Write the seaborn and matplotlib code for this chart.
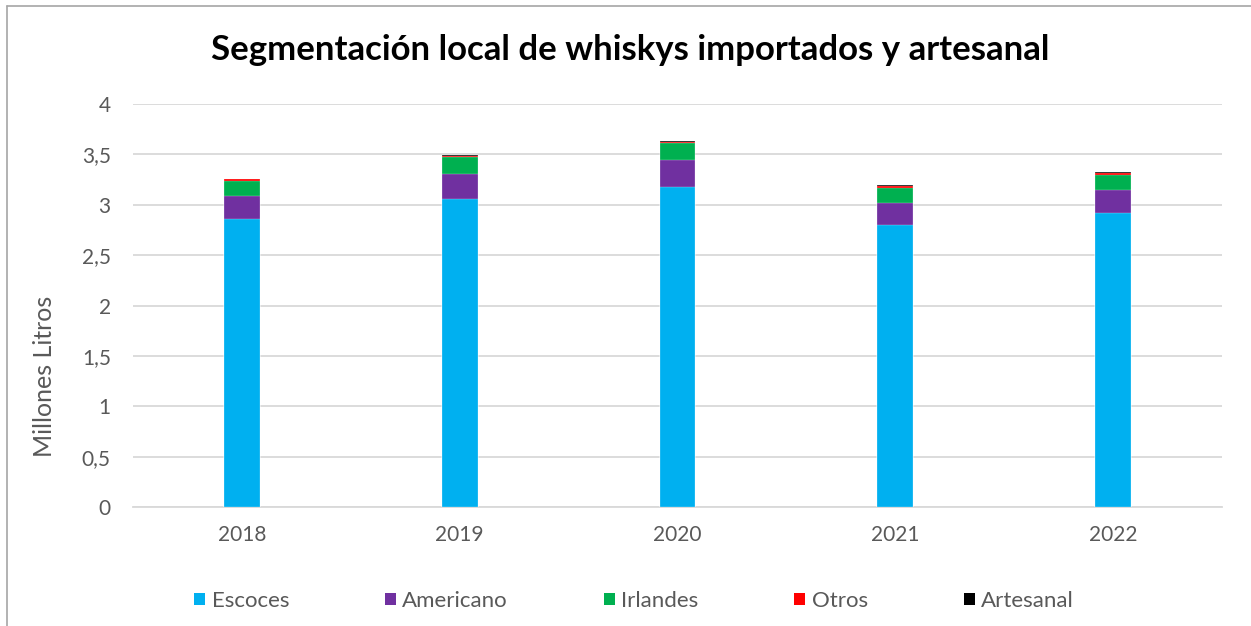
import numpy as np
import pandas as pd
import matplotlib
matplotlib.use("Agg")
import matplotlib.pyplot as plt
from matplotlib.patches import Patch
from matplotlib.lines import Line2D
from matplotlib.ticker import FuncFormatter
import seaborn as sns

# Volumen anual por origen (millones de litros)
years = ["2018", "2019", "2020", "2021", "2022"]
escoces = [2.86, 3.06, 3.18, 2.80, 2.915]
americano = [0.23, 0.25, 0.26, 0.22, 0.235]
irlandes = [0.15, 0.16, 0.17, 0.15, 0.15]
otros = [0.015, 0.017, 0.016, 0.02, 0.018]
artesanal = [0.003, 0.003, 0.003, 0.003, 0.003]

series_names = ["Escoces", "Americano", "Irlandes", "Otros", "Artesanal"]
series_colors = ["#00B0F0", "#7030A0", "#00B050", "#FF0000", "#000000"]
y_ticks = [0, 0.5, 1, 1.5, 2, 2.5, 3, 3.5, 4]

sns.set_theme(style="white")
plt.rcParams["font.family"] = ["Lato", "DejaVu Sans"]

df = pd.DataFrame({"year": years, "Escoces": escoces, "Americano": americano,
                   "Irlandes": irlandes, "Otros": otros, "Artesanal": artesanal})
cum = df[series_names].cumsum(axis=1)

fig = plt.figure(figsize=(12.51, 6.26), dpi=100)
ax = fig.add_axes([133 / 1251, 1 - 507 / 626, (1222 - 133) / 1251, (507 - 104) / 626])

# stacked bars: draw the tallest cumulative layer first
for name, color in reversed(list(zip(series_names, series_colors))):
    sns.barplot(x=df["year"], y=cum[name], color=color, width=0.165,
                saturation=1, ax=ax, linewidth=0.3, edgecolor=(1, 1, 1, 0.6), zorder=3)

ax.set_ylim(0, 4)
ax.set_yticks(y_ticks)
ax.yaxis.set_major_formatter(FuncFormatter(lambda v, _: f"{v:g}".replace(".", ",")))
ax.grid(axis="y", color="#D9D9D9", linewidth=1.3, zorder=0)
ax.grid(axis="x", visible=False)
for s in ["top", "right", "left"]:
    ax.spines[s].set_visible(False)
ax.spines["bottom"].set_color("#D9D9D9")
ax.spines["bottom"].set_linewidth(1.3)
ax.tick_params(axis="both", length=0, labelsize=15, labelcolor="#595959")
ax.tick_params(axis="y", pad=16)
ax.tick_params(axis="x", pad=13)
ax.set_xlabel("")
ax.set_ylabel("")

fig.text(45 / 1251, 1 - 376 / 626, "Millones Litros", rotation=90, ha="center",
         va="center", fontsize=18, color="#595959")
fig.text(630 / 1251, 1 - 50 / 626, "Segmentación local de whiskys importados y artesanal",
         ha="center", va="center", fontsize=25, fontweight="bold", color="#000000")

handles = [Patch(facecolor=c, edgecolor="none") for c in series_colors]
fig.legend(handles, series_names, loc="center", bbox_to_anchor=(634 / 1251, 1 - 601 / 626),
           ncol=5, frameon=False, fontsize=16, labelcolor="#595959",
           handlelength=0.5, handleheight=0.5, handletextpad=0.3, columnspacing=4.3)

# chart frame (top and left edges)
fig.add_artist(Line2D([7 / 1251, 7 / 1251], [0, 1 - 6 / 626], transform=fig.transFigure,
                      color="#A6A6A6", linewidth=1.2))
fig.add_artist(Line2D([7 / 1251, 1], [1 - 6 / 626, 1 - 6 / 626], transform=fig.transFigure,
                      color="#A6A6A6", linewidth=1.2))

fig.savefig("out.png", dpi=100)
